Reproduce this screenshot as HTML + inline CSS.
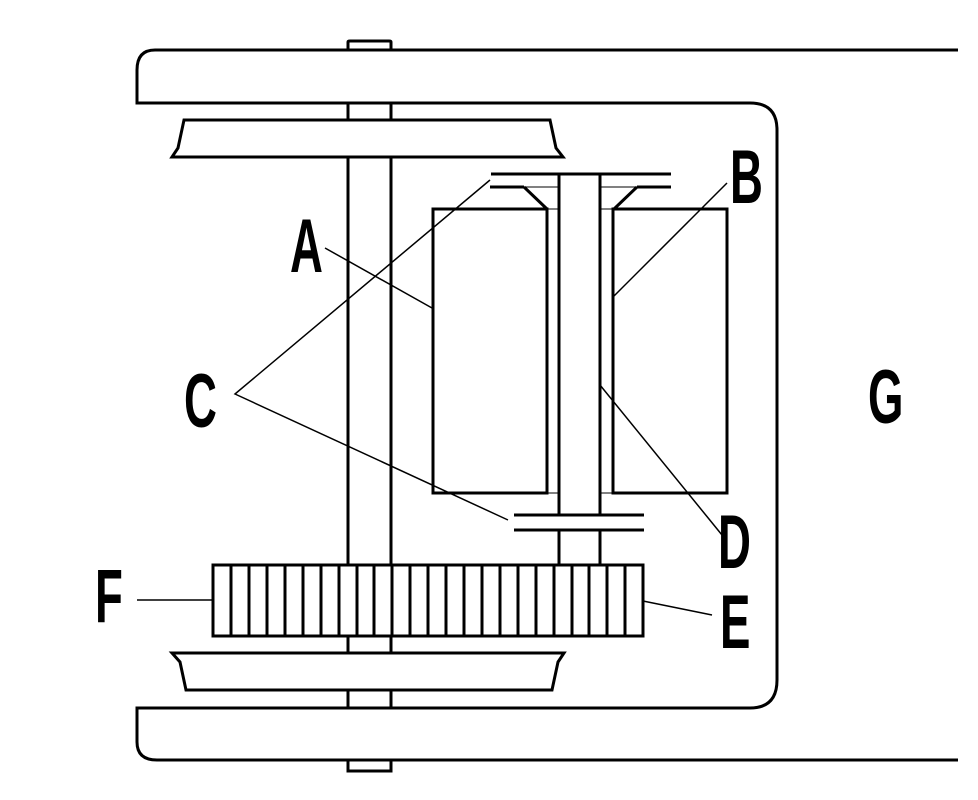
<!DOCTYPE html>
<html><head><meta charset="utf-8"><style>
html,body{margin:0;padding:0;background:#fff;}
svg{display:block}
text{font-family:"Liberation Sans",sans-serif;font-size:76px;fill:#000;font-weight:bold}
</style></head><body>
<svg width="978" height="800" viewBox="0 0 978 800" xmlns="http://www.w3.org/2000/svg">
<g fill="none" stroke="#000" stroke-width="3">
<line x1="348" y1="103" x2="348" y2="708"/>
<line x1="391" y1="103" x2="391" y2="708"/>
<path d="M348,51 V42 Q348,41 350,41 H389 Q391,41 391,42 V51" fill="#fff"/>
<path d="M348,760 V771 H391 V760" fill="#fff"/>
<path d="M958,50 H155 Q137,50 137,70 V103 H750 Q777,103 777,130 V680 Q777,708 750,708 H137 V742 Q137,760 157,760 H958" fill="none"/>
<path d="M184,120 H550 L556,148 L563,157 H172 L178,148 Z" fill="#fff"/>
<path d="M172,653 H564 L558,662 L552,690 H186 L180,662 Z" fill="#fff"/>
<line x1="559" y1="174" x2="559" y2="515"/>
<line x1="600" y1="174" x2="600" y2="515"/>
<line x1="559" y1="530" x2="559" y2="565"/>
<line x1="600" y1="530" x2="600" y2="565"/>
<line x1="491" y1="174" x2="671" y2="174"/>
<line x1="490" y1="187" x2="524" y2="187"/>
<line x1="637" y1="187" x2="671" y2="187"/>
<path d="M524,187 L547,209"/>
<path d="M637,187 L614,209"/>
<line x1="514" y1="515" x2="644" y2="515"/>
<line x1="514" y1="530" x2="644" y2="530"/>
<rect x="433" y="209" width="114" height="284"/>
<rect x="613" y="209" width="114" height="284"/>
</g>
<g stroke="#000" stroke-width="1" fill="none">
<line x1="524" y1="187" x2="559" y2="187"/>
<line x1="600" y1="187" x2="637" y2="187"/>
<line x1="547" y1="209" x2="559" y2="209"/>
<line x1="600" y1="209" x2="613" y2="209"/>
<line x1="547" y1="493" x2="559" y2="493"/>
<line x1="600" y1="493" x2="613" y2="493"/>
</g>
<g stroke="#000" stroke-width="3" fill="#fff">
<rect x="213" y="565" width="430" height="71"/>
</g>
<g stroke="#000" stroke-width="3">
<line x1="231" y1="565" x2="231" y2="636"/><line x1="249" y1="565" x2="249" y2="636"/>
<line x1="267" y1="565" x2="267" y2="636"/><line x1="285" y1="565" x2="285" y2="636"/>
<line x1="303" y1="565" x2="303" y2="636"/><line x1="321" y1="565" x2="321" y2="636"/>
<line x1="339" y1="565" x2="339" y2="636"/><line x1="357" y1="565" x2="357" y2="636"/>
<line x1="374" y1="565" x2="374" y2="636"/><line x1="392" y1="565" x2="392" y2="636"/>
<line x1="410" y1="565" x2="410" y2="636"/><line x1="428" y1="565" x2="428" y2="636"/>
<line x1="446" y1="565" x2="446" y2="636"/><line x1="464" y1="565" x2="464" y2="636"/>
<line x1="482" y1="565" x2="482" y2="636"/><line x1="500" y1="565" x2="500" y2="636"/>
<line x1="518" y1="565" x2="518" y2="636"/><line x1="536" y1="565" x2="536" y2="636"/>
<line x1="554" y1="565" x2="554" y2="636"/><line x1="572" y1="565" x2="572" y2="636"/>
<line x1="589" y1="565" x2="589" y2="636"/><line x1="607" y1="565" x2="607" y2="636"/>
<line x1="625" y1="565" x2="625" y2="636"/>
</g>
<g stroke="#000" stroke-width="1.5" fill="none">
<line x1="325" y1="248" x2="432" y2="308"/>
<line x1="727" y1="183" x2="614" y2="296"/>
<path d="M490,180 L235,394 L508,520"/>
<line x1="600" y1="385" x2="722" y2="535"/>
<line x1="643" y1="601" x2="712" y2="615"/>
<line x1="137" y1="600" x2="213" y2="600"/>
</g>
<g>
<text transform="translate(290,272) scale(0.6,1)">A</text>
<text transform="translate(730,203) scale(0.6,1)">B</text>
<text transform="translate(184,427) scale(0.6,1)">C</text>
<text transform="translate(718,568) scale(0.6,1)">D</text>
<text transform="translate(720,648) scale(0.6,1)">E</text>
<text transform="translate(95,622) scale(0.6,1)">F</text>
<text transform="translate(868,423) scale(0.6,1)">G</text>
</g>
</svg>
</body></html>
